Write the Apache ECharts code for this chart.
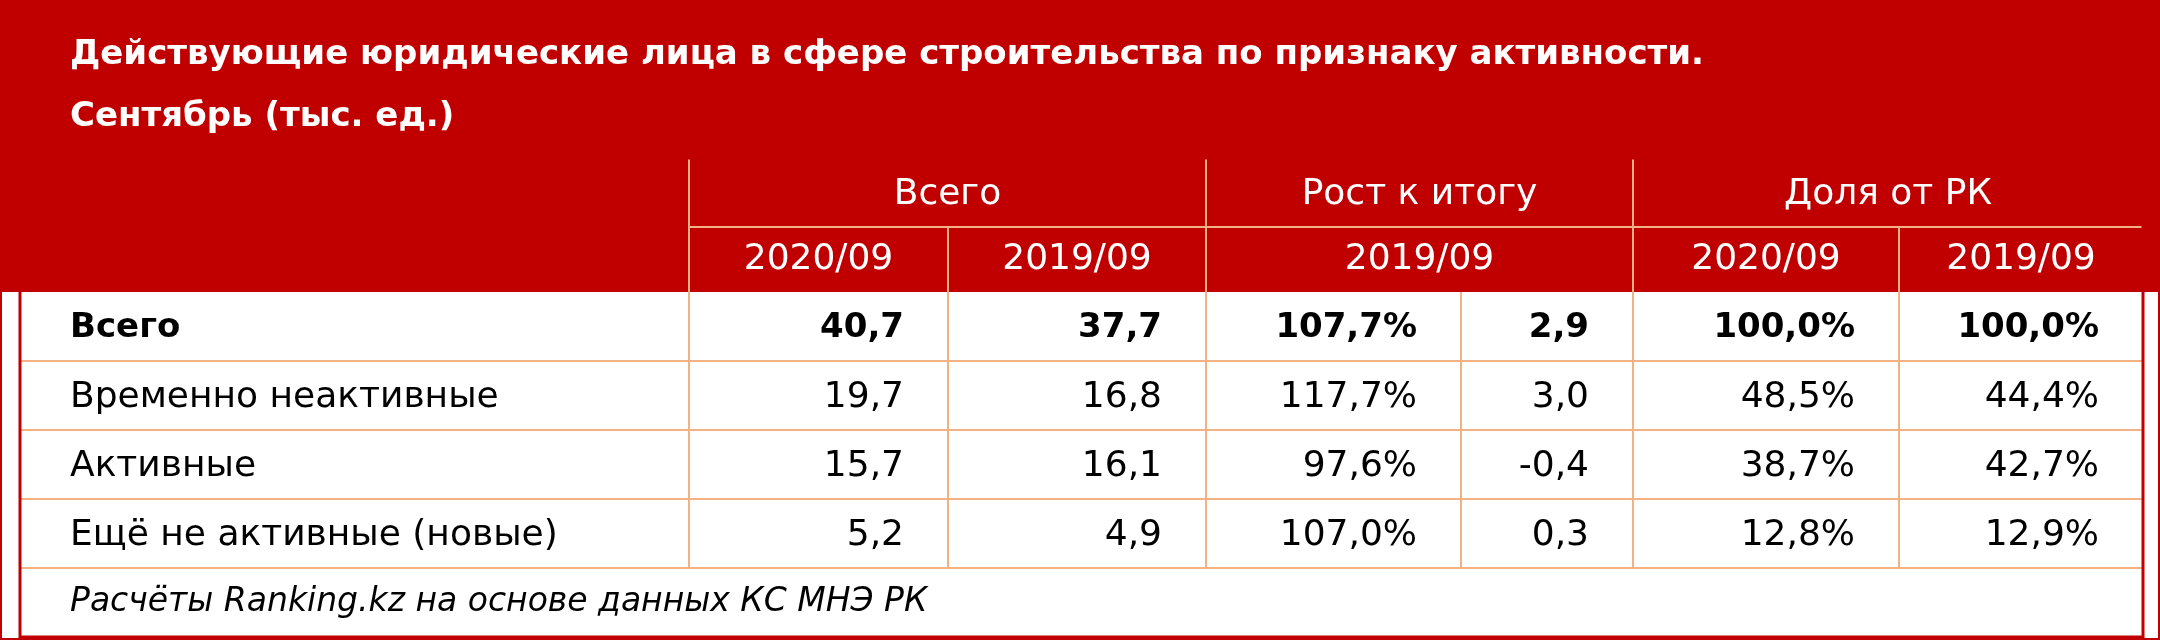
<!DOCTYPE html>
<html><head><meta charset="utf-8">
<script src="https://cdn.jsdelivr.net/npm/echarts@6/dist/echarts.min.js"></script>
<style>html,body{margin:0;padding:0;background:#fff}#c{width:2160px;height:640px}</style>
</head><body><div id="c"></div>
<script>
const titleLines = ['Действующие юридические лица в сфере строительства по признаку активности.', 'Сентябрь (тыс. ед.)'];
const groupHeaders = ['Всего', 'Рост к итогу', 'Доля от РК'];
const subHeaders = ['2020/09', '2019/09', '2019/09', '2020/09', '2019/09'];
const categories = ['Всего', 'Временно неактивные', 'Активные', 'Ещё не активные (новые)'];
const total2020 = ['40,7', '19,7', '15,7', '5,2'];
const total2019 = ['37,7', '16,8', '16,1', '4,9'];
const growthPct = ['107,7%', '117,7%', '97,6%', '107,0%'];
const growthAbs = ['2,9', '3,0', '-0,4', '0,3'];
const share2020 = ['100,0%', '48,5%', '38,7%', '12,8%'];
const share2019 = ['100,0%', '44,4%', '42,7%', '12,9%'];
const footnote = 'Расчёты Ranking.kz на основе данных КС МНЭ РК';

const RED = '#C00000', LINE = '#F4B183', FONT = 'DejaVu Sans';
const xs = [20, 689, 948, 1206, 1461, 1633, 1899, 2143];
const ys = [0, 158, 227, 292, 361, 430, 499, 568, 637];
const g = [];
const rect = (x, y, w, h, fill) => g.push({type:'rect', shape:{x, y, width:w, height:h}, style:{fill}});
const line = (x1, y1, x2, y2, c, w) => g.push({type:'line', shape:{x1, y1, x2, y2}, style:{stroke:c, lineWidth:w||2}});
const text = (t, x, y, o) => g.push({type:'text', x, y, style:Object.assign({text:t, fontFamily:FONT, fontSize:36, fill:'#000', textVerticalAlign:'middle', verticalAlign:'middle'}, o||{})});

rect(0, 0, 2160, ys[3], RED);
text(titleLines[0], 70, 55, {fill:'#fff', fontWeight:'bold', fontSize:34});
text(titleLines[1], 70, 117, {fill:'#fff', fontWeight:'bold', fontSize:34});
line(xs[0], ys[1], xs[7], ys[1], LINE);
line(xs[1], ys[2], xs[7], ys[2], LINE);
[xs[1], xs[3], xs[5]].forEach(x => line(x, ys[1], x, ys[3], LINE));
[xs[2], xs[6]].forEach(x => line(x, ys[2], x, ys[3], LINE));
const spans = [[1,3],[3,5],[5,7]];
groupHeaders.forEach((h, i) => text(h, (xs[spans[i][0]] + xs[spans[i][1]]) / 2, (ys[1] + ys[2]) / 2 + 2, {fill:'#fff', align:'center', textAlign:'center'}));
const subSpans = [[1,2],[2,3],[3,5],[5,6],[6,7]];
subHeaders.forEach((h, i) => text(h, (xs[subSpans[i][0]] + xs[subSpans[i][1]]) / 2, (ys[2] + ys[3]) / 2, {fill:'#fff', align:'center', textAlign:'center'}));
const cols = [total2020, total2019, growthPct, growthAbs, share2020, share2019];
categories.forEach((c, r) => {
  const y = (ys[3 + r] + ys[4 + r]) / 2 + 2;
  const fw = r === 0 ? 'bold' : 'normal';
  text(c, 70, y, {fontWeight: fw, fontSize: r === 0 ? 34 : 36});
  cols.forEach((col, j) => text(col[r], xs[j + 2] - 44, y, {fontWeight: fw, fontSize: r === 0 ? 34 : 36, align:'right', textAlign:'right'}));
});
for (let r = 4; r <= 7; r++) line(xs[0], ys[r], xs[7], ys[r], LINE);
for (let j = 1; j <= 6; j++) line(xs[j], ys[3], xs[j], ys[7], LINE);
text(footnote, 70, (ys[7] + ys[8]) / 2, {fontStyle:'italic', fontSize:33});
g.push({type:'rect', shape:{x:xs[0], y:ys[1], width:xs[7]-xs[0], height:ys[8]-ys[1]}, style:{fill:'none', stroke:RED, lineWidth:3}});
g.push({type:'rect', shape:{x:1, y:1, width:2158, height:638}, style:{fill:'none', stroke:RED, lineWidth:2}});

const chart = echarts.init(document.getElementById('c'));
chart.setOption({animation:false, graphic:{elements:g}});
</script></body></html>
